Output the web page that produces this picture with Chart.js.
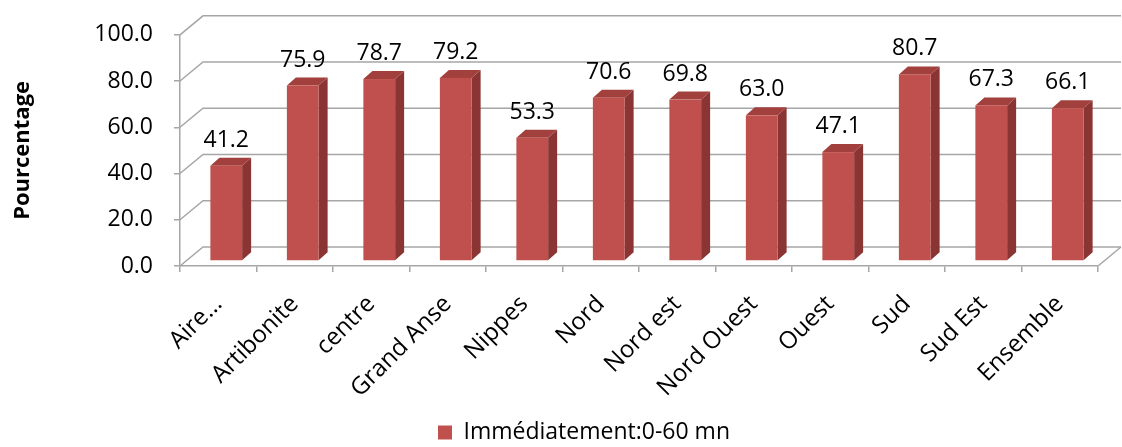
<!DOCTYPE html>
<html>
<head>
<meta charset="utf-8">
<title>Pourcentage par département</title>
<script src="https://cdn.jsdelivr.net/npm/chart.js"></script>
<style>
  html, body { margin: 0; padding: 0; background: #fff; }
</style>
</head>
<body>
<canvas id="chart" width="1122" height="447"></canvas>
<script>
const regions = ['Aire…', 'Artibonite', 'centre', 'Grand Anse', 'Nippes', 'Nord',
                 'Nord est', 'Nord Ouest', 'Ouest', 'Sud', 'Sud Est', 'Ensemble'];
const values = [41.2, 75.9, 78.7, 79.2, 53.3, 70.6, 69.8, 63.0, 47.1, 80.7, 67.3, 66.1];
const yTicks = [0, 20, 40, 60, 80, 100];
const seriesName = 'Immédiatement:0-60 mn';

// fake 3D: back wall offset, bar offset into the floor, bar depth
const WALL_DX = 23, WALL_DY = -19;
const BAR_DX = 8, BAR_DY = -5;
const SIDE_DX = 9, SIDE_DY = -8;
const GRID = '#A6A6A6';
const FONT = "'Open Sans', sans-serif";

const wallPlugin = {
  id: 'wall',
  afterLayout(chart) {
    // excel puts the legend a bit right of centre and lower
    chart.legend.left += 70;
    chart.legend.top += 7;
  },
  beforeDatasetsDraw(chart) {
    const { ctx, chartArea: a, scales: { y } } = chart;
    ctx.save();
    ctx.strokeStyle = GRID;
    ctx.lineWidth = 1.5;
    y.ticks.forEach(t => {
      const py = y.getPixelForValue(t.value);
      ctx.beginPath();
      ctx.moveTo(a.left, py);
      ctx.lineTo(a.left + WALL_DX, py + WALL_DY);
      ctx.lineTo(a.right + WALL_DX, py + WALL_DY);
      ctx.stroke();
    });
    ctx.beginPath();
    ctx.moveTo(a.right, a.bottom);
    ctx.lineTo(a.right + WALL_DX, a.bottom + WALL_DY);
    ctx.stroke();
    ctx.restore();
  },
  beforeDatasetDraw() {
    return false; // flat bars skipped, 3D ones drawn below
  },
  afterDatasetsDraw(chart) {
    const { ctx } = chart;
    const meta = chart.getDatasetMeta(0);
    ctx.save();
    meta.data.forEach((bar, i) => {
      const w = bar.width;
      const l = bar.x - w / 2 + BAR_DX, r = l + w;
      const t = bar.y + BAR_DY, b = bar.base + BAR_DY;
      // side
      ctx.fillStyle = '#8A3533';
      ctx.beginPath();
      ctx.moveTo(r, t); ctx.lineTo(r + SIDE_DX, t + SIDE_DY);
      ctx.lineTo(r + SIDE_DX, b + SIDE_DY); ctx.lineTo(r, b);
      ctx.closePath(); ctx.fill();
      // top
      ctx.fillStyle = '#A2403D';
      ctx.beginPath();
      ctx.moveTo(l, t); ctx.lineTo(l + SIDE_DX, t + SIDE_DY);
      ctx.lineTo(r + SIDE_DX, t + SIDE_DY); ctx.lineTo(r, t);
      ctx.closePath(); ctx.fill();
      // front
      ctx.fillStyle = '#C0504D';
      ctx.fillRect(l, t, w, b - t);
      // value label
      ctx.fillStyle = '#000';
      ctx.font = '23px ' + FONT;
      ctx.textAlign = 'center';
      ctx.textBaseline = 'alphabetic';
      ctx.fillText(values[i].toFixed(1), bar.x + BAR_DX, t - 19);
    });
    ctx.restore();
  }
};

new Chart(document.getElementById('chart'), {
  type: 'bar',
  data: {
    labels: regions,
    datasets: [{
      label: seriesName,
      data: values,
      backgroundColor: '#C0504D',
      categoryPercentage: 0.415,
      barPercentage: 1
    }]
  },
  options: {
    responsive: false,
    animation: false,
    devicePixelRatio: 1,
    layout: { padding: { left: 0, right: 24, top: 33, bottom: 0 } },
    plugins: {
      tooltip: { enabled: false },
      legend: {
        position: 'bottom',
        labels: {
          boxWidth: 14, boxHeight: 14, padding: 4,
          color: '#000', font: { family: FONT, size: 23 }
        }
      }
    },
    scales: {
      x: {
        grid: { offset: true, drawOnChartArea: false, tickLength: 6, color: GRID, lineWidth: 1.5 },
        border: { color: GRID, width: 1.5 },
        ticks: { minRotation: 45, maxRotation: 45, padding: 18, color: '#000', font: { family: FONT, size: 24 } },
        afterFit(s) { s.height = 144; }
      },
      y: {
        min: 0, max: 100,
        afterBuildTicks(s) { s.ticks = yTicks.map(v => ({ value: v })); },
        grid: { drawOnChartArea: false, tickLength: 6, color: GRID, lineWidth: 1.5 },
        border: { color: GRID, width: 1.5 },
        ticks: { padding: 21, color: '#000', font: { family: FONT, size: 23 }, callback: v => v.toFixed(1) },
        title: { display: true, text: 'Pourcentage', color: '#000', font: { family: FONT, size: 22, weight: 'bold' }, padding: { top: 10, bottom: 0 } },
        afterFit(s) { s.width = 180; }
      }
    }
  },
  plugins: [wallPlugin]
});
</script>
</body>
</html>
